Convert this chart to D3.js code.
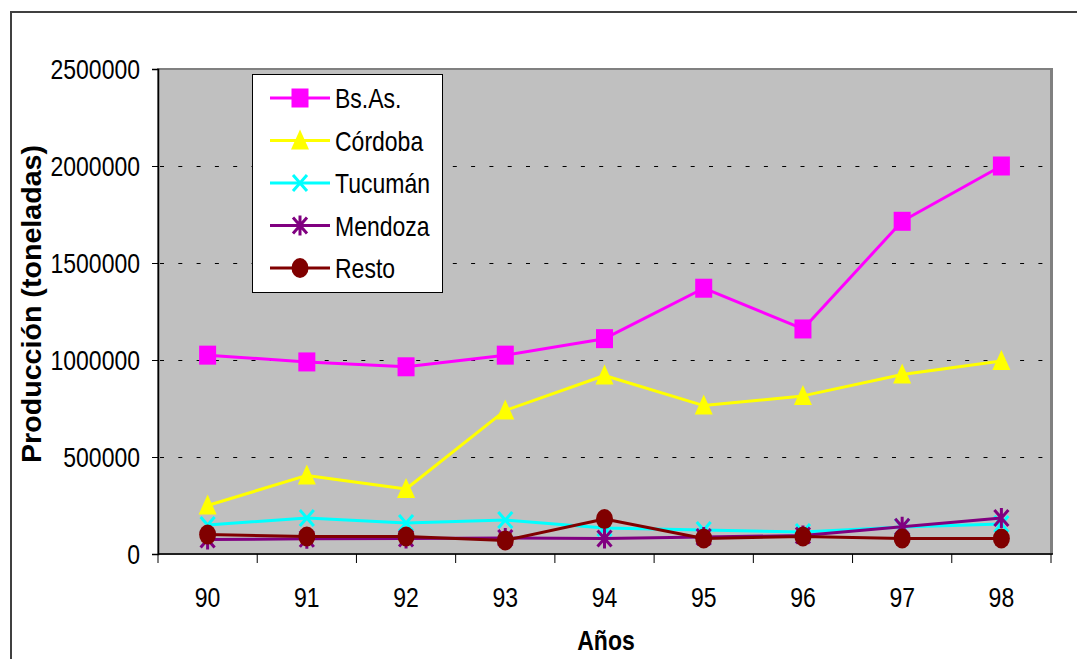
<!DOCTYPE html>
<html>
<head>
<meta charset="utf-8">
<script src="https://cdn.jsdelivr.net/npm/d3@7"></script>
<style>
  html, body { margin: 0; padding: 0; background: #fff; }
  svg { display: block; font-family: Arial, "Liberation Sans", sans-serif; }
</style>
</head>
<body>
<svg id="chart" width="1077" height="659"></svg>
<script>
// Producción por provincia, años 1990–1998 (toneladas)
const years = ["90", "91", "92", "93", "94", "95", "96", "97", "98"];
const bsAs    = [1025000, 990000, 965000, 1025000, 1110000, 1370000, 1160000, 1715000, 2000000];
const cordoba = [250000, 405000, 335000, 740000, 920000, 765000, 815000, 925000, 995000];
const tucuman = [150000, 185000, 160000, 175000, 134000, 124000, 113000, 139000, 155000];
const mendoza = [75000, 78000, 80000, 82000, 80000, 88000, 95000, 140000, 185000];
const resto   = [100000, 90000, 90000, 70000, 180000, 80000, 90000, 80000, 80000];
const yTicks  = [0, 500000, 1000000, 1500000, 2000000, 2500000];

const series = [
  { name: "Bs.As.",  values: bsAs,    color: "#ff00ff", marker: "square" },
  { name: "Córdoba", values: cordoba, color: "#ffff00", marker: "triangle" },
  { name: "Tucumán", values: tucuman, color: "#00ffff", marker: "x" },
  { name: "Mendoza", values: mendoza, color: "#800080", marker: "star" },
  { name: "Resto",   values: resto,   color: "#800000", marker: "circle" }
];

const svg = d3.select("#chart");
const plot = { left: 158, top: 69, right: 1051, bottom: 554 };
const FONT = 23;      // label font size
const STRETCH = 1.2;  // glyphs are drawn slightly taller than wide

// outer chart frame
svg.append("rect")
  .attr("x", 11).attr("y", 12).attr("width", 1100).attr("height", 700)
  .attr("fill", "#fff").attr("stroke", "#404040").attr("stroke-width", 2);

const x = d3.scaleBand().domain(years).range([plot.left, plot.right]);
const y = d3.scaleLinear().domain([0, 2500000]).range([plot.bottom, plot.top]);

// text helper: baseline at (tx, ty), stretched vertically
function label(parent, tx, ty, str, anchor, bold) {
  return parent.append("text")
    .attr("transform", `translate(${tx},${ty}) scale(1,${STRETCH})`)
    .attr("text-anchor", anchor || "start")
    .attr("font-size", FONT)
    .attr("font-weight", bold ? "bold" : "normal")
    .attr("fill", "#000")
    .text(str);
}

// plot area
svg.append("rect")
  .attr("x", plot.left).attr("y", plot.top)
  .attr("width", plot.right - plot.left).attr("height", plot.bottom - plot.top)
  .attr("fill", "#c0c0c0").attr("stroke", "#808080").attr("stroke-width", 2);
svg.append("line")
  .attr("x1", plot.right + 1).attr("x2", plot.right + 1)
  .attr("y1", plot.top - 1).attr("y2", plot.bottom)
  .attr("stroke", "#808080").attr("stroke-width", 2);

// dashed gridlines
svg.append("g").selectAll("line")
  .data(yTicks.filter(d => d > 0 && d < 2500000))
  .join("line")
  .attr("x1", plot.left + 2).attr("x2", plot.right - 1)
  .attr("y1", d => Math.round(y(d)) + 0.5).attr("y2", d => Math.round(y(d)) + 0.5)
  .attr("stroke", "#000").attr("stroke-width", 1)
  .attr("stroke-dasharray", "4,14.3");

// y axis
const yAxis = d3.axisLeft(y).tickValues(yTicks).tickSize(6).tickFormat(() => "");
const gy = svg.append("g").attr("transform", `translate(${plot.left},0)`).call(yAxis);
gy.select(".domain").attr("stroke", "#000").attr("stroke-width", 1.5);
gy.selectAll(".tick line").attr("stroke", "#000");
gy.selectAll(".tick").each(function(d) {
  label(d3.select(this), -18, 9.5, d3.format("d")(d), "end");
});

// x axis: ticks at category boundaries
const gx = svg.append("g").attr("transform", `translate(0,${plot.bottom})`);
gx.append("line").attr("x1", plot.left).attr("x2", plot.right + 2)
  .attr("stroke", "#000").attr("stroke-width", 1.5);
const boundaries = years.map(d => x(d)).concat([x(years[years.length - 1]) + x.bandwidth()]);
gx.selectAll("line.tk").data(boundaries).join("line").attr("class", "tk")
  .attr("x1", d => d).attr("x2", d => d).attr("y1", 0).attr("y2", 9)
  .attr("stroke", "#000").attr("stroke-width", 1);
years.forEach(d => label(gx, x(d) + x.bandwidth() / 2, 53, d, "middle"));

// axis titles
svg.append("text")
  .attr("transform", `translate(41,${(145 + 463) / 2}) rotate(-90) scale(1,${STRETCH})`)
  .attr("text-anchor", "middle").attr("font-size", FONT).attr("font-weight", "bold")
  .attr("textLength", 318).attr("lengthAdjust", "spacingAndGlyphs")
  .text("Producción (toneladas)");
label(svg, 606, 650, "Años", "middle", true);

// marker shapes
function drawMarker(g, type, color, cx, cy) {
  if (type === "square") {
    g.append("rect").attr("x", cx - 8.5).attr("y", cy - 9.5).attr("width", 17).attr("height", 19)
      .attr("fill", color);
  } else if (type === "triangle") {
    g.append("path").attr("d", `M${cx},${cy - 11} L${cx + 9},${cy + 9} L${cx - 9},${cy + 9} Z`)
      .attr("fill", color);
  } else if (type === "x") {
    g.append("path").attr("d", `M${cx - 7},${cy - 8} L${cx + 7},${cy + 8} M${cx - 7},${cy + 8} L${cx + 7},${cy - 8}`)
      .attr("stroke", color).attr("stroke-width", 3).attr("fill", "none");
  } else if (type === "star") {
    g.append("path").attr("d",
      `M${cx - 7},${cy - 8} L${cx + 7},${cy + 8} M${cx - 7},${cy + 8} L${cx + 7},${cy - 8} M${cx},${cy - 10} L${cx},${cy + 10}`)
      .attr("stroke", color).attr("stroke-width", 3).attr("fill", "none");
  } else if (type === "circle") {
    g.append("ellipse").attr("cx", cx).attr("cy", cy).attr("rx", 8.5).attr("ry", 10)
      .attr("fill", color);
  }
}

// series lines and markers
const line = d3.line().x((d, i) => x(years[i]) + x.bandwidth() / 2).y(d => y(d));
const seriesG = svg.append("g");
series.forEach(s => {
  const g = seriesG.append("g");
  g.append("path").datum(s.values).attr("d", line)
    .attr("fill", "none").attr("stroke", s.color).attr("stroke-width", 3)
    .attr("stroke-linejoin", "round");
  s.values.forEach((v, i) => drawMarker(g, s.marker, s.color, x(years[i]) + x.bandwidth() / 2, y(v)));
});

// legend
const lg = svg.append("g");
lg.append("rect").attr("x", 252.5).attr("y", 74.5).attr("width", 190).attr("height", 218)
  .attr("fill", "#fff").attr("stroke", "#000").attr("stroke-width", 1);
series.forEach((s, i) => {
  const cy = 98 + i * 42.5;
  lg.append("line").attr("x1", 270).attr("x2", 330).attr("y1", cy).attr("y2", cy)
    .attr("stroke", s.color).attr("stroke-width", 3);
  drawMarker(lg, s.marker, s.color, 300, cy);
  label(lg, 335, cy + 10, s.name, "start");
});
</script>
</body>
</html>
